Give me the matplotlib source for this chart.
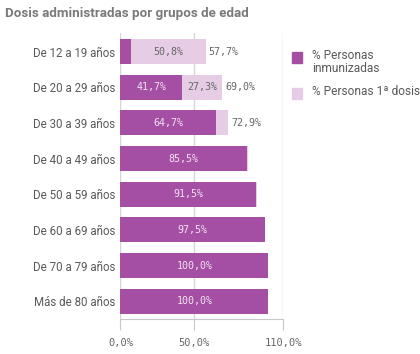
import matplotlib
matplotlib.use("Agg")
import matplotlib.pyplot as plt
from matplotlib.patches import Rectangle

categories = ["De 12 a 19 años", "De 20 a 29 años", "De 30 a 39 años", "De 40 a 49 años",
              "De 50 a 59 años", "De 60 a 69 años", "De 70 a 79 años", "Más de 80 años"]
inmunizadas = [6.9, 41.7, 64.7, 85.5, 91.5, 97.5, 100.0, 100.0]
primera_dosis = [50.8, 27.3, 8.2, 1.0, 0.6, 0.5, 0.0, 0.0]
totales = [57.7, 69.0, 72.9, 86.5, 92.1, 98.0, 100.0, 100.0]
x_ticks = [0, 50, 110]
series_names = ["% Personas\ninmunizadas", "% Personas 1ª dosis"]

DARK = "#a44fa3"
LIGHT = "#e6cde5"
GRAY = "#595959"
GRID = "#d6d6d6"

def fmt(v):
    return f"{v:.1f}%".replace(".", ",")

fig = plt.figure(figsize=(4.2, 3.54), dpi=100)
W, H = 420, 354
ax = fig.add_axes([120.5 / W, 1 - 319 / H, (283 - 120.5) / W, (319 - 33) / H])

y = list(range(len(categories)))
ax.barh(y, inmunizadas, height=0.70, color=DARK, zorder=3)
ax.barh(y, primera_dosis, left=inmunizadas, height=0.70, color=LIGHT, zorder=3)

mono = "DejaVu Sans Mono"
for i in y:
    d, l, t = inmunizadas[i], primera_dosis[i], totales[i]
    if d > 15:
        ax.text(d / 2, i, fmt(d), ha="center", va="center", color="#f3e3f2",
                fontsize=7.2, family=mono, zorder=4)
    if l > 15:
        ax.text(d + l / 2, i, fmt(l), ha="center", va="center", color="#666666",
                fontsize=7.2, family=mono, zorder=4)
    if l > 5:
        ax.text(d + l + 2, i, fmt(t), ha="left", va="center", color="#666666",
                fontsize=7.2, family=mono, zorder=4)

ax.set_xlim(0, 110)
ax.set_ylim(7.5, -0.52)
ax.set_yticks(y)
ax.set_yticklabels(categories, fontsize=8.3, color=GRAY, family="Roboto")
ax.set_xticks(x_ticks)
ax.set_xticklabels([fmt(v) for v in x_ticks], fontsize=7.5, color="#666666", family=mono)
ax.tick_params(axis="y", length=0, pad=4)
ax.tick_params(axis="x", length=8, color="#c8c8c8", pad=6)
ax.grid(axis="x", color=GRID, linewidth=1, zorder=0)
for s in ["top", "right", "left"]:
    ax.spines[s].set_visible(False)
ax.spines["bottom"].set_color("#c8c8c8")

fig.text(5 / W, 1 - 13 / H, "Dosis administradas por grupos de edad", fontsize=9.6,
         fontweight="bold", color="#7a7a7a", family="Roboto", va="center", ha="left")

# legend
leg_items = [(DARK, series_names[0], 52), (LIGHT, series_names[1], 88)]
for col, name, top in leg_items:
    fig.patches.append(Rectangle((292 / W, 1 - (top + 11) / H), 10 / W, 11 / H,
                                 transform=fig.transFigure, color=col))
    fig.text(312 / W, 1 - (top - 3) / H, name, fontsize=8.6, color=GRAY, family="Roboto",
             va="top", ha="left", linespacing=1.0)

fig.savefig("out.png", dpi=100)
